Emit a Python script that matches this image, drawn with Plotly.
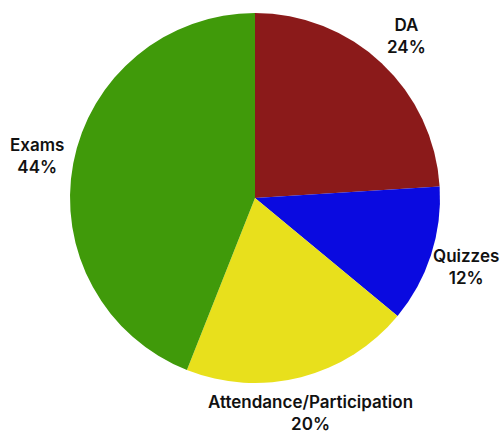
import math
import plotly.graph_objects as go

labels = ["DA", "Quizzes", "Attendance/Participation", "Exams"]
values = [24, 12, 20, 44]
colors = ["#8B1A1A", "#0A0AE0", "#E8E01C", "#409A0A"]

W, H = 500, 434
cx, cy, r = 255, 198, 185  # pie centre and radius in pixels
label_factor = 1.2

fig = go.Figure(go.Pie(
    labels=labels,
    values=values,
    sort=False,
    direction="clockwise",
    rotation=0,
    marker=dict(colors=colors, line=dict(width=0)),
    textinfo="none",
    showlegend=False,
    hoverinfo="skip",
    domain=dict(x=[(cx - r) / W, (cx + r) / W], y=[1 - (cy + r) / H, 1 - (cy - r) / H]),
))

total = sum(values)
cum = 0
for lab, v in zip(labels, values):
    mid = (cum + v / 2) / total * 2 * math.pi
    cum += v
    px = cx + label_factor * r * math.sin(mid)
    py = cy - label_factor * r * math.cos(mid)
    fig.add_annotation(
        x=px / W, y=1 - py / H, xref="paper", yref="paper",
        text=f"{lab}<br>{round(v / total * 100)}%",
        showarrow=False, xanchor="center", yanchor="middle", align="center",
        font=dict(family="Inter", size=17, color="#111111", weight=600),
    )

fig.update_layout(
    width=W, height=H,
    margin=dict(l=0, r=0, t=0, b=0),
    paper_bgcolor="white",
    plot_bgcolor="white",
    showlegend=False,
)

fig.write_html(
    "out.html",
    config={"displayModeBar": False},
    post_script="document.body.style.margin='0';document.body.style.overflow='hidden';",
)
